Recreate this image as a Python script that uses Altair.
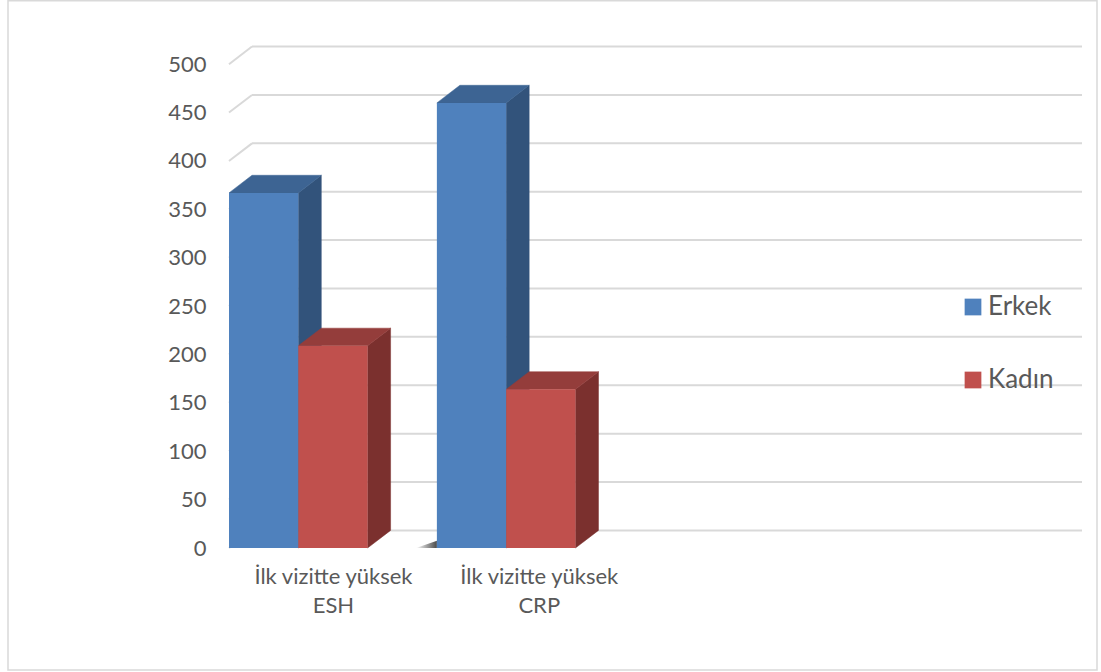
import json

import altair as alt
import pandas as pd

# --- chart values -------------------------------------------------------
category_lines = [["İlk vizitte yüksek", "ESH"], ["İlk vizitte yüksek", "CRP"]]
series = ["Erkek", "Kadın"]
erkek = [367, 460]
kadin = [209, 164]
y_ticks = [0, 50, 100, 150, 200, 250, 300, 350, 400, 450, 500]

# --- styling --------------------------------------------------------------
front_colors = ["#4F81BD", "#C0504D"]
top_colors = ["#3D6493", "#943D3B"]
side_colors = ["#32537B", "#7B302E"]
grid_color = "#D9D9D9"
text_color = "#595959"
FONT = "Lato"

BAR = 1.0      # bar width in x units
GROUP = 3.0    # category slot width in x units (two bars + gap)
DX = 0.332     # depth offset of the 3D faces, x units
DY = 18.2      # depth offset of the 3D faces, value units
SHADOW_W = 0.3  # floor shadow in front of a cluster, x units
SHADOW_H = 7.5  # its height at the bar edge, value units
X_MAX = 12.31
Y_MAX = 525

PLOT_W, PLOT_H = 853, 508
PAD_L, PAD_T = 229, 40
PAD_R = 1101 - PAD_L - PLOT_W
PAD_B = 672 - PAD_T - PLOT_H

# --- tables ---------------------------------------------------------------
values_by_series = [erkek, kadin]
bar_rows, side_rows, top_rows, shadow_rows = [], [], [], []
for i in range(len(category_lines)):
    for j, name in enumerate(series):
        v = values_by_series[j][i]
        x0 = i * GROUP + j * BAR
        x1 = x0 + BAR
        key = f"{i}-{j}"
        bar_rows.append(dict(bar=key, series=name, x0=x0, x1=x1, base=0, value=v))
        side_rows += [
            dict(bar=key, series=name, x=x1, lo=0, hi=v),
            dict(bar=key, series=name, x=x1 + DX, lo=DY, hi=v + DY),
        ]
        top_rows += [
            dict(bar=key, series=name, y=v, xa=x0, xb=x1),
            dict(bar=key, series=name, y=v + DY, xa=x0 + DX, xb=x1 + DX),
        ]
        if i > 0 and j == 0:
            shadow_rows += [
                dict(bar=key, x=x0 - SHADOW_W, lo=0, hi=0),
                dict(bar=key, x=x0, lo=0, hi=SHADOW_H),
            ]
bars = pd.DataFrame(bar_rows)
sides = pd.DataFrame(side_rows)
tops = pd.DataFrame(top_rows)
shadows = pd.DataFrame(shadow_rows)
grid = pd.DataFrame(
    [dict(t=t, tb=t + DY, xa=0.0, xb=DX, xe=X_MAX) for t in y_ticks]
)

label_pos = [i * GROUP + GROUP / 2 - 0.03 * i for i in range(len(category_lines))]
label_expr = json.dumps(category_lines[-1], ensure_ascii=False)
for pos, lines in reversed(list(zip(label_pos, category_lines))[:-1]):
    label_expr = (
        f"datum.value < {pos + GROUP / 2} ? "
        f"{json.dumps(lines, ensure_ascii=False)} : ({label_expr})"
    )

x_scale = alt.Scale(domain=[0, X_MAX], nice=False, zero=False)
y_scale = alt.Scale(domain=[0, Y_MAX], nice=False, zero=False)

# one axis definition per channel, shared by every layer
x_axis = alt.Axis(
    values=label_pos, labelExpr=label_expr, title=None, domain=False,
    ticks=False, grid=False, labelAngle=0, labelFont=FONT,
    labelFontSize=22, labelColor=text_color, labelPadding=18,
    labelLineHeight=29, labelBaseline="top", labelFlush=False,
    labelOverlap=False, zindex=1,
)
y_axis = alt.Axis(
    values=y_ticks, title=None, domain=False, ticks=False, grid=False,
    labelFont=FONT, labelFontSize=22, labelColor=text_color,
    labelPadding=23, labelOverlap=False, labelFlush=False, zindex=1,
)

# --- layers ---------------------------------------------------------------
frame = alt.Chart(pd.DataFrame({"f": [0]})).mark_rect(
    filled=False, stroke=grid_color, strokeWidth=1.5
).encode(
    x=alt.value(8 - PAD_L), x2=alt.value(1097 - PAD_L),
    y=alt.value(0.75 - PAD_T), y2=alt.value(670 - PAD_T),
)

grid_diag = alt.Chart(grid).mark_rule(color=grid_color, strokeWidth=2).encode(
    x=alt.X("xa:Q", scale=x_scale, axis=x_axis), x2="xb:Q",
    y=alt.Y("t:Q", scale=y_scale, axis=y_axis), y2="tb:Q",
)
grid_back = alt.Chart(grid).mark_rule(color=grid_color, strokeWidth=2).encode(
    x=alt.X("xb:Q", scale=x_scale, axis=x_axis), x2="xe:Q",
    y=alt.Y("tb:Q", scale=y_scale, axis=y_axis),
)

floor_shadow = alt.Chart(shadows).mark_area(
    opacity=1,
    color=alt.Gradient(
        gradient="linear", x1=0, x2=1, y1=0, y2=0,
        stops=[alt.GradientStop(color="#FFFFFF", offset=0),
               alt.GradientStop(color="#4A4A4A", offset=1)],
    ),
).encode(
    x=alt.X("x:Q", scale=x_scale, axis=x_axis),
    y=alt.Y("hi:Q", scale=y_scale, axis=y_axis, stack=None), y2="lo:Q",
    detail="bar:N",
)

side_faces = alt.Chart(sides).mark_area(opacity=1, strokeWidth=0.5).encode(
    x=alt.X("x:Q", scale=x_scale, axis=x_axis),
    y=alt.Y("hi:Q", scale=y_scale, axis=y_axis, stack=None), y2="lo:Q",
    color=alt.Color("series:N", scale=alt.Scale(domain=series, range=side_colors), legend=None),
    stroke=alt.Stroke("series:N", scale=alt.Scale(domain=series, range=side_colors), legend=None),
    detail="bar:N",
)

top_faces = alt.Chart(tops).mark_area(orient="horizontal", opacity=1, strokeWidth=0.5).encode(
    y=alt.Y("y:Q", scale=y_scale, axis=y_axis),
    x=alt.X("xa:Q", scale=x_scale, axis=x_axis, stack=None), x2="xb:Q",
    color=alt.Color("series:N", scale=alt.Scale(domain=series, range=top_colors), legend=None),
    stroke=alt.Stroke("series:N", scale=alt.Scale(domain=series, range=top_colors), legend=None),
    detail="bar:N",
)

front_faces = alt.Chart(bars).mark_rect(opacity=1).encode(
    x=alt.X("x0:Q", scale=x_scale, axis=x_axis),
    x2="x1:Q",
    y=alt.Y("base:Q", scale=y_scale, axis=y_axis),
    y2="value:Q",
    color=alt.Color(
        "series:N", scale=alt.Scale(domain=series, range=front_colors),
        legend=alt.Legend(
            title=None, orient="none", legendX=731, legendY=254,
            direction="vertical", symbolType="square", symbolSize=280,
            symbolStrokeWidth=0, symbolOpacity=1, labelFont=FONT,
            labelFontSize=26, labelColor=text_color, labelOffset=2,
            rowPadding=47, padding=0,
        ),
    ),
)

chart = (
    alt.layer(frame, grid_diag, grid_back, floor_shadow, side_faces, top_faces, front_faces)
    .resolve_scale(color="independent", stroke="independent")
    .properties(
        width=PLOT_W, height=PLOT_H,
        autosize=alt.AutoSizeParams(type="none"),
        padding={"left": PAD_L, "top": PAD_T, "right": PAD_R, "bottom": PAD_B},
        background="white",
    )
    .configure_view(stroke=None)
)

chart.save("out.html", embed_options={"renderer": "svg", "actions": False})
